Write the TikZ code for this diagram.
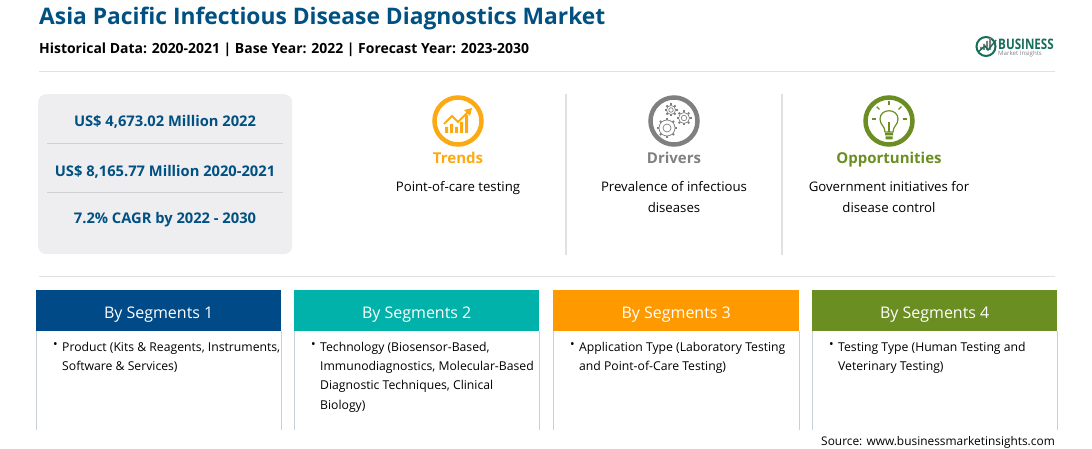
\documentclass[tikz,border=0pt]{standalone}
\usepackage{fontspec}
\setmainfont{Open Sans}
\usepackage{tikz}
\usetikzlibrary{arrows,positioning}
\definecolor{bmitheme}{RGB}{0,80,130}
\definecolor{bmiblue}{RGB}{0,74,135}
\definecolor{bmiteal}{RGB}{0,178,169}
\definecolor{bmiorange}{RGB}{255,153,0}
\definecolor{bmigreen}{RGB}{107,142,35}
\definecolor{bmiyellow}{RGB}{252,170,20}
\definecolor{bmigray}{RGB}{128,128,128}
\definecolor{bmipanel}{RGB}{238,238,240}
\definecolor{bmirule}{RGB}{225,225,225}
\definecolor{bmiside}{RGB}{200,208,214}
\definecolor{bmilogo}{RGB}{22,110,90}
\tikzstyle{titletext} = [anchor=base west, inner sep=0pt, font=\fontsize{22.8}{25}\selectfont\bfseries, text=bmitheme]
\tikzstyle{subtext} = [anchor=base west, inner sep=0pt, font=\fontsize{13.95}{17}\selectfont\bfseries]
\tikzstyle{stattext} = [anchor=base, inner sep=0pt, font=\fontsize{14.7}{17}\selectfont\bfseries, text=bmitheme]
\tikzstyle{headtext} = [anchor=base, inner sep=0pt, font=\fontsize{15}{18}\selectfont\bfseries]
\tikzstyle{bodytext} = [anchor=base, inner sep=0pt, align=center, font=\fontsize{13.2}{20.7}\selectfont]
\tikzstyle{segment} = [anchor=north west, minimum height=41pt, inner sep=0pt, text depth=0pt, text height=15pt, text=white, font=\fontsize{16}{18}\selectfont]
\tikzstyle{segtext} = [anchor=north west, inner sep=0pt, align=left, font=\fontsize{12.2}{19.2}\selectfont]
\tikzstyle{bullet} = [anchor=north west, inner sep=0pt, font=\fontsize{12.2}{19.2}\selectfont]
\tikzstyle{sideline} = [draw=bmiside, line width=0.8pt]
\tikzstyle{ruleline} = [draw=bmirule, line width=1pt]
\begin{document}
\begin{tikzpicture}[x=1pt,y=-1pt]
\useasboundingbox (0,0) rectangle (1092,449);
% Title lines
\node (title) [titletext] at (39,25) {Asia Pacific Infectious Disease Diagnostics Market};
\node (sub) [subtext] at (39,54) {Historical Data: 2020-2021 | Base Year: 2022 | Forecast Year: 2023-2030};
\coordinate (ruleA) at (39,72);
\coordinate (ruleB) at (1055,72);
\coordinate (ruleC) at (39,276);
\coordinate (ruleD) at (1055,276);
\draw[ruleline] (ruleA) -- (ruleB);
\draw[ruleline] (ruleC) -- (ruleD);

% Logo
\node (logoA) [anchor=base west, inner sep=0pt, font=\fontsize{11.6}{12}\selectfont\bfseries, text=bmilogo] at (998,49.5) {\scalebox{1}[1.25]{BUSINESS}};
\node (logoB) [anchor=base west, inner sep=0pt, font=\fontsize{6.1}{7}\selectfont, text=bmigray] at (998,56) {Market Insights};
\draw[bmilogo, line width=2pt] (986,46.5) circle (9.5);
\fill[bmigray] (980,50) rectangle (982,47) (983,50) rectangle (985,44) (986,50) rectangle (988,41) (989,50) rectangle (991,38);
\draw[bmilogo, line width=1.4pt] (978,52) -- (985,46) -- (988,50) -- (996,40);

% Stats panel
\node (panel) [anchor=north west, fill=bmipanel, rounded corners=8pt, minimum width=254pt, minimum height=160pt, inner sep=0pt] at (38,94) {};
\node (statA) [stattext] at (165,127) {US\$ 4,673.02 Million 2022};
\node (statB) [stattext] at (165,177) {US\$ 8,165.77 Million 2020-2021};
\node (statC) [stattext] at (165,224) {7.2\% CAGR by 2022 - 2030};
\coordinate (divA) at (47,143);
\coordinate (divB) at (283,143);
\coordinate (divC) at (47,192);
\coordinate (divD) at (283,192);
\draw[draw=black!18, line width=0.8pt] (divA) -- (divB);
\draw[draw=black!18, line width=0.8pt] (divC) -- (divD);

% Column dividers
\coordinate (colA) at (566,94);
\coordinate (colB) at (566,255);
\coordinate (colC) at (782,94);
\coordinate (colD) at (782,255);
\draw[draw=bmirule, line width=1.6pt] (colA) -- (colB);
\draw[draw=bmirule, line width=1.6pt] (colC) -- (colD);

% Trends
\node (trendicon) [circle, draw=bmiyellow, line width=4.5pt, minimum size=47pt, inner sep=0pt] at (458,121) {};
\fill[bmiyellow] (445,133) rectangle (448,127) (450,133) rectangle (453,124) (455,133) rectangle (458,127) (460,133) rectangle (463,122) (465,133) rectangle (468,115);
\draw[bmiyellow, line width=1.8pt] (444,124) -- (452,116) -- (458,122) -- (469,111);
\fill[bmiyellow] (472,108) -- (464,110) -- (470,116) -- cycle;
\node (trends) [headtext, text=bmiyellow] at (458,164) {Trends};
\node (trendtxt) [bodytext] at (458,192) {Point-of-care testing};

% Drivers
\node (drivericon) [circle, draw=bmigray, line width=4.5pt, minimum size=47pt, inner sep=0pt] at (674,121) {};
\foreach \cx/\cy/\ra in {667/128/8, 671/110/4.5, 684/118/5.5}{
  \draw[bmigray, line width=0.7pt] (\cx,\cy) circle (\ra);
  \draw[bmigray, line width=0.7pt] (\cx,\cy) circle (\ra*0.5);
  \foreach \ang in {0,45,...,315}
    \draw[bmigray, line width=1.8pt] (\cx,\cy) ++(\ang:\ra) -- ++(\ang:2);
}
\node (drivers) [headtext, text=bmigray] at (674,164) {Drivers};
\node (drivertxt) [bodytext] at (674,212) {Prevalence of infectious\\diseases};

% Opportunities
\node (oppicon) [circle, draw=bmigreen, line width=4.5pt, minimum size=47pt, inner sep=0pt] at (889,121) {};
\draw[bmigreen, line width=1.2pt] (885,132) .. controls (885,126) and (880,125) .. (880,119) .. controls (880,108) and (898,108) .. (898,119) .. controls (898,125) and (893,126) .. (893,132) -- cycle;
\draw[bmigreen, line width=1.1pt] (889,132) -- (889,122);
\fill[bmigreen] (885,133) rectangle (893,135.5) (885.5,136.5) rectangle (892.5,139.5);
\foreach \ang in {180,225,270,315,0}
  \draw[bmigreen, line width=1.3pt] (889,119) ++(\ang:13.5) -- ++(\ang:4);
\node (opps) [headtext, text=bmigreen] at (889,164) {Opportunities};
\node (opptxt) [bodytext] at (889,212) {Government initiatives for\\disease control};

% Segment headers
\node (segA) [segment, fill=bmiblue, minimum width=245pt] at (36,290) {By Segments 1};
\node (segB) [segment, fill=bmiteal, minimum width=245pt] at (294,290) {By Segments 2};
\node (segC) [segment, fill=bmiorange, minimum width=246pt] at (553,290) {By Segments 3};
\node (segD) [segment, fill=bmigreen, minimum width=245pt] at (812,290) {By Segments 4};

% Side lines
\foreach \seg in {segA,segB,segC,segD}{
  \coordinate (\seg bl) at ([yshift=-99pt]\seg.south west);
  \coordinate (\seg br) at ([yshift=-99pt]\seg.south east);
  \draw[sideline] (\seg.south west) -- (\seg bl);
  \draw[sideline] (\seg.south east) -- (\seg br);
}

% Segment texts
\node (bulA) [bullet] at (53,342) {•};
\node (txtA) [segtext] at (62,342) {Product (Kits \& Reagents, Instruments,\\Software \& Services)};
\node (bulB) [bullet] at (311,342) {•};
\node (txtB) [segtext] at (320,342) {Technology (Biosensor-Based,\\Immunodiagnostics, Molecular-Based\\Diagnostic Techniques, Clinical\\Biology)};
\node (bulC) [bullet] at (570,342) {•};
\node (txtC) [segtext] at (579,342) {Application Type (Laboratory Testing\\and Point-of-Care Testing)};
\node (bulD) [bullet] at (829,342) {•};
\node (txtD) [segtext] at (838,342) {Testing Type (Human Testing and\\Veterinary Testing)};

% Source
\node (source) [anchor=base east, inner sep=0pt, font=\fontsize{11.9}{15}\selectfont] at (1055,445) {Source: www.businessmarketinsights.com};
\end{tikzpicture}
\end{document}
